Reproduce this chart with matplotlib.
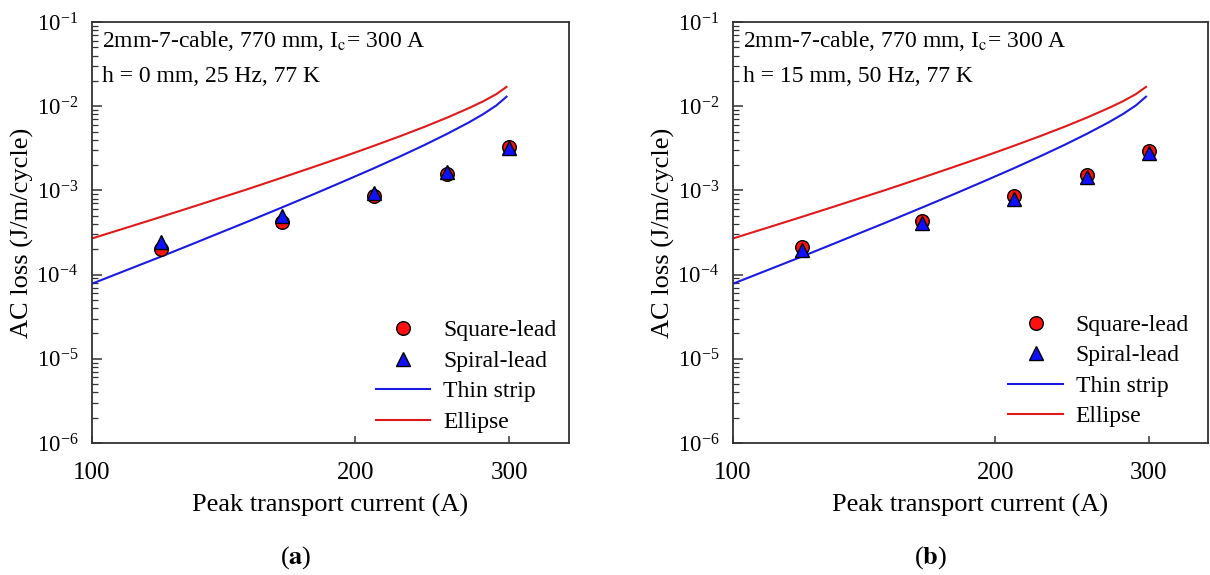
import matplotlib
matplotlib.use('Agg')
import matplotlib.pyplot as plt
from matplotlib.ticker import FixedLocator, NullLocator, LogLocator, FixedFormatter

plt.rcParams['font.family'] = ['Liberation Serif', 'DejaVu Serif']
plt.rcParams['mathtext.fontset'] = 'stix'

# measured points (A, J/m/cycle)
current = [120, 165, 210, 255, 300]
square_a = [2.0e-4, 4.25e-4, 8.6e-4, 1.57e-3, 3.3e-3]
spiral_a = [2.46e-4, 5.0e-4, 9.2e-4, 1.65e-3, 3.2e-3]
square_b = [2.14e-4, 4.33e-4, 8.6e-4, 1.51e-3, 2.94e-3]
spiral_b = [1.96e-4, 4.13e-4, 7.9e-4, 1.43e-3, 2.76e-3]

# model curves
model_current = [100, 110, 120, 130, 140, 150, 165, 180, 195, 210, 225, 240, 255, 270, 280, 290, 298]
thin_strip = [7.8e-5, 1.15e-4, 1.64e-4, 2.29e-4, 3.13e-4, 4.18e-4, 6.29e-4, 9.18e-4, 1.31e-3,
              1.83e-3, 2.53e-3, 3.46e-3, 4.72e-3, 6.45e-3, 8.02e-3, 1.02e-2, 1.3e-2]
ellipse = [2.69e-4, 3.66e-4, 4.86e-4, 6.33e-4, 8.11e-4, 1.02e-3, 1.42e-3, 1.93e-3, 2.57e-3,
           3.38e-3, 4.40e-3, 5.69e-3, 7.35e-3, 9.53e-3, 1.14e-2, 1.39e-2, 1.7e-2]

panels = [
    ('a', square_a, spiral_a, ['2mm-7-cable, 770 mm, I$_\\mathrm{c}$= 300 A', 'h = 0 mm, 25 Hz, 77 K'], (0.595, 0.2925)),
    ('b', square_b, spiral_b, ['2mm-7-cable, 770 mm, I$_\\mathrm{c}$= 300 A', 'h = 15 mm, 50 Hz, 77 K'], (0.58, 0.3055)),
]

fig = plt.figure(figsize=(12.1, 5.75), dpi=100)
ax_a = fig.add_axes([0.076, 0.2296, 0.394, 0.732])
ax_b = fig.add_axes([0.6058, 0.2296, 0.3925, 0.732])

for ax, (tag, sq, sp, notes, leg_pos) in zip([ax_a, ax_b], panels):
    ax.set_xscale('log')
    ax.set_yscale('log')
    ax.plot(current, sq, 'o', ms=9.8, mfc='#ff1010', mec='black', mew=1.0, ls='none', label='Square-lead', zorder=3)
    ax.plot(current, sp, '^', ms=9.8, mfc='#1010ff', mec='black', mew=1.0, ls='none', label='Spiral-lead', zorder=4)
    ax.plot(model_current, thin_strip, color='#1a1ae0', lw=1.5, label='Thin strip')
    ax.plot(model_current, ellipse, color='#e01a1a', lw=1.5, label='Ellipse')
    ax.set_xlim(100, 351)
    ax.set_ylim(1e-6, 1e-1)

    ax.xaxis.set_major_locator(FixedLocator([100, 200, 300]))
    ax.xaxis.set_major_formatter(FixedFormatter(['100', '200', '300']))
    ax.xaxis.set_minor_locator(NullLocator())
    ax.yaxis.set_major_locator(LogLocator(base=10, numticks=10))
    ax.yaxis.set_minor_locator(LogLocator(base=10, subs=range(2, 10), numticks=10))
    ax.tick_params(axis='both', which='both', direction='in', top=False, right=False, colors='#333333', labelcolor='black')
    ax.tick_params(axis='y', which='major', length=7, width=1.1, pad=10, labelsize=16.5)
    ax.tick_params(axis='y', which='minor', length=4, width=0.9)
    ax.tick_params(axis='x', which='major', length=5, width=1.1, pad=14, labelsize=18)
    for s in ax.spines.values():
        s.set_color('#333333')
        s.set_linewidth(1.3)

    ax.set_xlabel('Peak transport current (A)', fontsize=19, labelpad=7)
    ax.set_ylabel('AC loss (J/m/cycle)', fontsize=19)
    ax.yaxis.set_label_coords(-0.122, 0.5)

    ax.text(0.022, 0.94, notes[0], transform=ax.transAxes, fontsize=17, va='baseline')
    ax.text(0.022, 0.857, notes[1], transform=ax.transAxes, fontsize=17, va='baseline')

    ax.legend(loc='upper left', bbox_to_anchor=leg_pos, frameon=False, fontsize=17,
              handlelength=2.3, handletextpad=0.55, labelspacing=0.38,
              borderpad=0, borderaxespad=0, markerscale=1.0)

fig.text(0.2446, 0.031, '($\\mathbf{a}$)', ha='center', va='center', fontsize=19)
fig.text(0.7694, 0.031, '($\\mathbf{b}$)', ha='center', va='center', fontsize=19)

fig.savefig('out.png', dpi=100)
